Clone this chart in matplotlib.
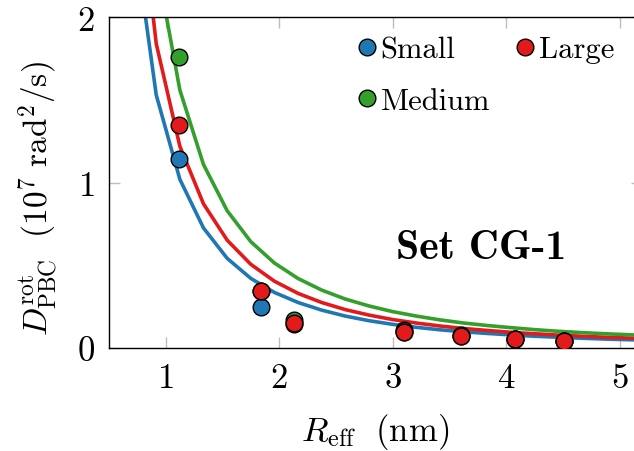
"""
Rotational diffusion under PBC versus effective radius, set CG-1
"""

import numpy as np
import matplotlib
matplotlib.use('Agg')
import matplotlib.pyplot as plt

matplotlib.rcParams['font.family'] = 'serif'
matplotlib.rcParams['font.serif'] = ['cmr10']
matplotlib.rcParams['mathtext.fontset'] = 'cm'
matplotlib.rcParams['axes.formatter.use_mathtext'] = True
matplotlib.rcParams['axes.unicode_minus'] = False

# simulated proteins
r_eff = [1.12, 1.84, 2.13, 3.10, 3.60, 4.08, 4.51]
d_small = [1.14, 0.25, 0.148, 0.107, 0.081, 0.057, 0.042]
d_medium = [1.76, 0.345, 0.17, 0.095, 0.07, 0.055, 0.04]
d_large = [1.35, 0.343, 0.152, 0.095, 0.071, 0.054, 0.040]

# model curves (sampled)
r_curve = [0.708, 0.917, 1.125, 1.333, 1.542, 1.75, 1.958, 2.167, 2.375, 2.583,
           2.792, 3.0, 3.208, 3.417, 3.625, 3.833, 4.042, 4.25, 4.458, 4.667,
           4.875, 5.083, 5.292]
curve_small = [2.57, 1.53, 1.02, 0.726, 0.542, 0.421, 0.336, 0.275, 0.229, 0.193,
               0.165, 0.143, 0.125, 0.110, 0.098, 0.088, 0.079, 0.071, 0.065,
               0.059, 0.054, 0.050, 0.046]
curve_large = [3.09, 1.84, 1.22, 0.872, 0.652, 0.506, 0.404, 0.330, 0.275, 0.232,
               0.199, 0.172, 0.151, 0.133, 0.118, 0.106, 0.095, 0.086, 0.078,
               0.071, 0.065, 0.060, 0.055]
curve_medium = [3.93, 2.34, 1.56, 1.11, 0.83, 0.643, 0.514, 0.42, 0.35, 0.296,
                0.254, 0.22, 0.193, 0.170, 0.151, 0.136, 0.123, 0.111, 0.101,
                0.093, 0.086, 0.080, 0.074]

blue = '#1f78b4'
red = '#e31a1c'
green = '#33a02c'

fig = plt.figure(figsize=(6.34, 4.52), dpi=100)
ax = fig.add_axes([0.1718, 0.2279, 0.8414, 0.7316])

ax.plot(r_curve, curve_small, color=blue, lw=2.6, zorder=2)
ax.plot(r_curve, curve_large, color=red, lw=2.6, zorder=2)
ax.plot(r_curve, curve_medium, color=green, lw=2.6, zorder=2)

mk = dict(marker='o', ms=12, mec='black', mew=1.0, ls='none', zorder=5)
ax.plot(r_eff, d_small, color=blue, label='Small', **mk)
ax.plot(r_eff, d_medium, color=green, label='Medium', **mk)
ax.plot(r_eff, d_large, color=red, label='Large', **mk)

ax.set_xlim(0.5, 5.2)
ax.set_ylim(0, 2)
ax.set_xticks([1, 2, 3, 4, 5])
ax.set_yticks([0, 1, 2])

ax.tick_params(direction='in', length=8, width=1.0, color='#bdbdbd',
               top=True, right=True, labelsize=25, pad=10)
for s in ax.spines.values():
    s.set_linewidth(1.0)

ax.set_xlabel(r'$R_{\mathrm{eff}}\ \ (\mathrm{nm})$', fontsize=25, va='center')
ax.xaxis.set_label_coords(0.5, -0.25)
ax.set_ylabel(r'$D^{\mathrm{rot}}_{\mathrm{PBC}}\ \ (10^7\ \mathrm{rad}^2/\mathrm{s})$',
              fontsize=24, va='center')
ax.yaxis.set_label_coords(-0.133, 0.455)

ax.text(3.78, 0.605, 'Set CG-1', fontfamily='cmb10', fontsize=30,
        ha='center', va='center')

ax.legend(loc='upper left', bbox_to_anchor=(0.466, 0.944), ncol=2, frameon=False,
          fontsize=22, handlelength=0.6, handletextpad=0.15, columnspacing=0.85,
          borderpad=0, borderaxespad=0, labelspacing=0.8)

fig.savefig('out.png', dpi=100)
